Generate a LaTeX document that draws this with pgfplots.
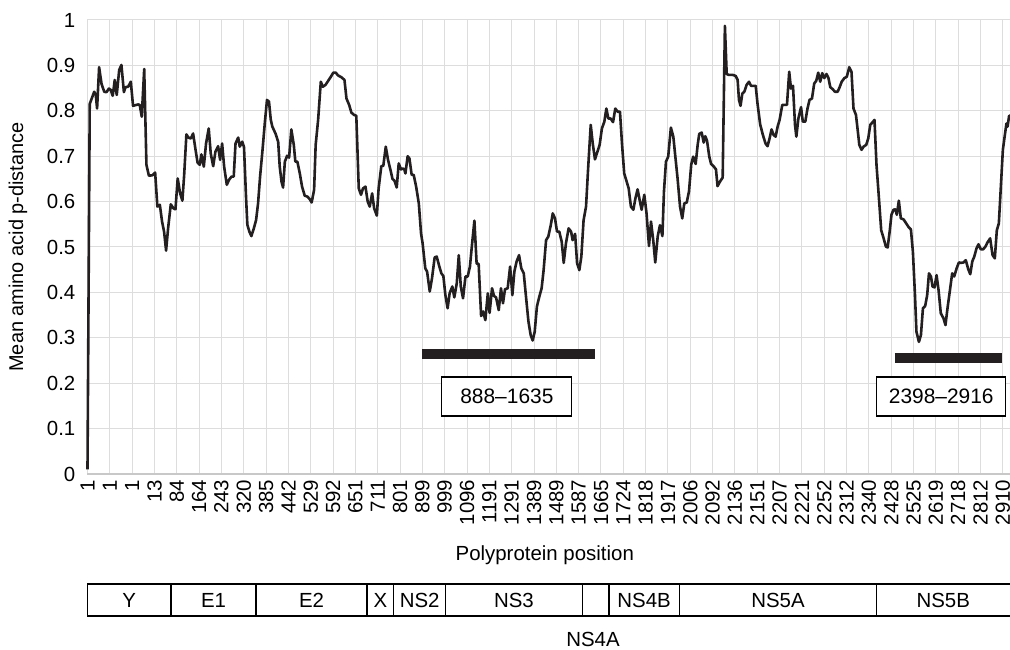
\documentclass[border=0pt]{standalone}
\usepackage{fontspec}
\setmainfont{Liberation Sans}
\usepackage{pgfplots}
\pgfplotsset{compat=1.18}
\usetikzlibrary{calc}
\definecolor{gridgray}{RGB}{221,221,221}
\definecolor{axisgray}{RGB}{200,200,200}
\definecolor{linecol}{RGB}{35,31,32}
\tikzset{gene/.style={font=\fontsize{20.5}{20.5}\selectfont, anchor=center, inner sep=0pt},
  div/.style={black, line width=1.2bp}}
\begin{document}
\begin{tikzpicture}
\begin{axis}[
  scale only axis, width=922.5bp, height=454bp,
  xmin=0, xmax=41.32, ymin=0, ymax=1,
  clip=false,
  axis x line*=bottom, axis y line*=left,
  x axis line style={draw=axisgray, line width=1.2bp, -},
  y axis line style={draw=none},
  major tick length=0,
  grid=major, major grid style={draw=gridgray, line width=1bp},
  xtick={0,...,41},
  xticklabels={1,1,1,13,84,164,243,320,385,442,529,592,651,711,801,899,999,1096,1191,1291,1389,1489,1587,1665,1724,1818,1917,2006,2092,2136,2151,2207,2221,2252,2312,2340,2428,2525,2619,2718,2812,2910},
  xticklabel style={rotate=90, anchor=east, font=\fontsize{20.5}{20.5}\selectfont, inner sep=0pt, xshift=-5.5bp},
  ytick={0,0.1,0.2,0.3,0.4,0.5,0.6,0.7,0.8,0.9,1},
  yticklabels={0,0.1,0.2,0.3,0.4,0.5,0.6,0.7,0.8,0.9,1},
  yticklabel style={font=\fontsize{20.5}{20.5}\selectfont, anchor=east, inner sep=0pt, xshift=-12bp},
  /pgf/number format/assume math mode=true,
  xlabel={Polyprotein position},
  xlabel style={at={(axis description cs:0.4957,-0.1784)}, anchor=center, font=\fontsize{20.5}{20.5}\selectfont},
  ylabel={Mean amino acid p-distance},
  ylabel style={at={(axis description cs:-0.0753,0.5)}, anchor=center, font=\fontsize{20}{20}\selectfont},
]
\addplot[linecol, line width=2.6bp, line join=round] coordinates {
(0,0.01) (0.1,0.815) (0.3,0.842) (0.37,0.835) (0.43,0.805) (0.52,0.896) (0.63,0.859) (0.75,0.842) (0.85,0.841) (0.96,0.849) (1.04,0.846) (1.13,0.833) (1.22,0.868) (1.31,0.835) (1.42,0.89) (1.52,0.901) (1.63,0.841) (1.70,0.852) (1.82,0.853) (1.94,0.864) (2.04,0.811) (2.27,0.814) (2.34,0.813) (2.43,0.787) (2.54,0.892) (2.64,0.681) (2.75,0.657) (2.91,0.658) (3.03,0.664) (3.13,0.589) (3.24,0.593) (3.34,0.556) (3.43,0.534) (3.52,0.492) (3.61,0.541) (3.73,0.594) (3.85,0.585) (3.94,0.583) (4.04,0.651) (4.15,0.618) (4.25,0.602) (4.33,0.659) (4.43,0.748) (4.52,0.741) (4.63,0.739) (4.73,0.75) (4.84,0.714) (4.93,0.686) (5.03,0.681) (5.10,0.704) (5.21,0.677) (5.31,0.728) (5.43,0.761) (5.52,0.706) (5.63,0.678) (5.73,0.71) (5.85,0.722) (5.94,0.692) (6.03,0.728) (6.12,0.677) (6.24,0.637) (6.34,0.648) (6.45,0.655) (6.55,0.655) (6.63,0.728) (6.75,0.741) (6.82,0.721) (6.93,0.732) (7.01,0.72) (7.10,0.611) (7.16,0.549) (7.25,0.534) (7.34,0.524) (7.45,0.541) (7.55,0.559) (7.64,0.596) (7.73,0.655) (7.84,0.714) (7.94,0.772) (8.04,0.824) (8.13,0.82) (8.21,0.78) (8.28,0.765) (8.42,0.75) (8.54,0.732) (8.61,0.677) (8.69,0.644) (8.76,0.631) (8.84,0.688) (8.94,0.701) (9.03,0.697) (9.13,0.759) (9.24,0.725) (9.31,0.688) (9.40,0.688) (9.51,0.662) (9.61,0.633) (9.73,0.613) (9.85,0.611) (9.96,0.605) (10.04,0.598) (10.15,0.626) (10.22,0.725) (10.33,0.78) (10.45,0.864) (10.54,0.853) (10.66,0.857) (10.78,0.866) (10.90,0.875) (11.01,0.884) (11.12,0.884) (11.22,0.878) (11.37,0.874) (11.51,0.868) (11.60,0.827) (11.72,0.813) (11.82,0.796) (11.94,0.791) (12.04,0.789) (12.15,0.629) (12.25,0.615) (12.34,0.629) (12.45,0.633) (12.55,0.6) (12.64,0.589) (12.75,0.618) (12.84,0.585) (12.96,0.569) (13.04,0.629) (13.16,0.678) (13.25,0.679) (13.36,0.721) (13.46,0.692) (13.58,0.668) (13.66,0.650) (13.75,0.646) (13.85,0.631) (13.94,0.684) (14.04,0.671) (14.12,0.673) (14.19,0.671) (14.24,0.662) (14.34,0.7) (14.42,0.695) (14.52,0.659) (14.61,0.659) (14.72,0.633) (14.84,0.596) (14.94,0.53) (15.01,0.508) (15.13,0.453) (15.21,0.446) (15.33,0.402) (15.43,0.431) (15.55,0.477) (15.64,0.479) (15.76,0.457) (15.85,0.442) (15.94,0.436) (16.03,0.394) (16.13,0.365) (16.22,0.398) (16.34,0.413) (16.43,0.389) (16.54,0.42) (16.63,0.482) (16.72,0.413) (16.82,0.387) (16.93,0.435) (17.03,0.435) (17.13,0.457) (17.22,0.504) (17.33,0.558) (17.43,0.463) (17.52,0.463) (17.63,0.348) (17.72,0.358) (17.82,0.339) (17.93,0.398) (18.01,0.355) (18.12,0.409) (18.21,0.392) (18.30,0.389) (18.42,0.361) (18.52,0.409) (18.61,0.376) (18.70,0.407) (18.82,0.409) (18.93,0.457) (19.03,0.394) (19.12,0.446) (19.22,0.468) (19.33,0.482) (19.43,0.453) (19.54,0.442) (19.64,0.391) (19.75,0.336) (19.85,0.306) (19.94,0.294) (20.03,0.313) (20.13,0.369) (20.24,0.391) (20.34,0.409) (20.43,0.449) (20.54,0.515) (20.64,0.523) (20.75,0.548) (20.84,0.574) (20.94,0.563) (21.03,0.534) (21.13,0.534) (21.24,0.512) (21.33,0.465) (21.43,0.508) (21.55,0.541) (21.66,0.534) (21.73,0.515) (21.84,0.529) (21.93,0.464) (22.03,0.449) (22.12,0.479) (22.22,0.559) (22.33,0.589) (22.42,0.67) (22.54,0.769) (22.63,0.728) (22.73,0.693) (22.84,0.71) (22.94,0.725) (23.04,0.761) (23.15,0.776) (23.24,0.805) (23.33,0.783) (23.43,0.783) (23.54,0.775) (23.64,0.805) (23.75,0.798) (23.85,0.798) (23.94,0.728) (24.04,0.662) (24.15,0.644) (24.24,0.629) (24.34,0.589) (24.45,0.582) (24.54,0.607) (24.64,0.627) (24.73,0.604) (24.82,0.582) (24.94,0.615) (25.04,0.574) (25.15,0.502) (25.24,0.556) (25.34,0.515) (25.43,0.466) (25.54,0.523) (25.64,0.548) (25.75,0.524) (25.82,0.622) (25.91,0.688) (26.01,0.699) (26.13,0.763) (26.24,0.743) (26.33,0.699) (26.43,0.651) (26.54,0.589) (26.64,0.563) (26.73,0.596) (26.84,0.598) (26.94,0.622) (27.04,0.681) (27.13,0.699) (27.24,0.683) (27.33,0.725) (27.40,0.749) (27.51,0.752) (27.60,0.73) (27.67,0.744) (27.75,0.734) (27.85,0.699) (27.93,0.683) (28.04,0.678) (28.15,0.671) (28.22,0.634) (28.33,0.644) (28.45,0.653) (28.55,0.987) (28.63,0.881) (28.73,0.879) (28.90,0.879) (29.03,0.877) (29.12,0.868) (29.18,0.824) (29.25,0.811) (29.33,0.838) (29.42,0.842) (29.52,0.857) (29.63,0.864) (29.72,0.855) (29.84,0.855) (29.93,0.855) (30.01,0.816) (30.13,0.77) (30.25,0.747) (30.37,0.728) (30.46,0.722) (30.55,0.739) (30.64,0.759) (30.73,0.747) (30.82,0.743) (30.91,0.765) (31.00,0.78) (31.12,0.813) (31.24,0.813) (31.33,0.813) (31.43,0.886) (31.51,0.849) (31.60,0.855) (31.69,0.769) (31.75,0.743) (31.84,0.783) (31.96,0.808) (32.04,0.776) (32.15,0.776) (32.25,0.805) (32.34,0.824) (32.45,0.827) (32.55,0.86) (32.64,0.866) (32.73,0.884) (32.82,0.864) (32.91,0.883) (33.00,0.872) (33.10,0.881) (33.19,0.872) (33.27,0.852) (33.37,0.848) (33.48,0.842) (33.60,0.842) (33.69,0.852) (33.78,0.864) (33.90,0.872) (34.01,0.875) (34.12,0.896) (34.22,0.886) (34.31,0.805) (34.42,0.791) (34.49,0.761) (34.57,0.725) (34.67,0.714) (34.76,0.721) (34.88,0.725) (34.97,0.739) (35.06,0.769) (35.15,0.774) (35.25,0.78) (35.34,0.681) (35.45,0.607) (35.55,0.537) (35.66,0.519) (35.76,0.501) (35.84,0.499) (35.93,0.534) (36.01,0.571) (36.10,0.582) (36.19,0.583) (36.25,0.571) (36.34,0.602) (36.43,0.563) (36.55,0.561) (36.67,0.552) (36.79,0.543) (36.88,0.539) (36.97,0.49) (37.06,0.398) (37.13,0.313) (37.24,0.291) (37.33,0.306) (37.42,0.365) (37.52,0.37) (37.61,0.394) (37.69,0.442) (37.78,0.435) (37.85,0.413) (37.94,0.411) (38.03,0.438) (38.12,0.405) (38.22,0.354) (38.34,0.343) (38.43,0.328) (38.52,0.365) (38.63,0.405) (38.73,0.442) (38.82,0.435) (38.93,0.453) (39.03,0.466) (39.12,0.465) (39.24,0.466) (39.34,0.471) (39.45,0.451) (39.54,0.44) (39.63,0.468) (39.72,0.479) (39.82,0.497) (39.91,0.506) (40.01,0.495) (40.12,0.495) (40.22,0.501) (40.31,0.51) (40.43,0.519) (40.54,0.482) (40.64,0.475) (40.73,0.537) (40.82,0.552) (40.91,0.633) (41.00,0.714) (41.09,0.747) (41.16,0.772) (41.21,0.765) (41.28,0.789) (41.32,0.789)
};
\addplot[linecol, line width=10bp] coordinates {(14.98,0.264) (22.73,0.264)};
\addplot[linecol, line width=10bp] coordinates {(36.16,0.256) (40.95,0.256)};
\node[draw=black, line width=1.1bp, fill=white, minimum width=130bp, minimum height=39bp, inner sep=0pt, font=\fontsize{21}{21}\selectfont] at (axis cs:18.785,0.1708) {888--1635};
\node[draw=black, line width=1.1bp, fill=white, minimum width=129bp, minimum height=39bp, inner sep=0pt, font=\fontsize{21}{21}\selectfont] at (axis cs:38.24,0.1708) {2398--2916};
\draw[div] (axis cs:0,-0.2423) -- (axis cs:41.32,-0.2423);
\draw[div] (axis cs:0,-0.3128) -- (axis cs:41.32,-0.3128);
\draw[div] (axis cs:0,-0.2423) -- (axis cs:0,-0.3128);
\draw[div] (axis cs:3.74,-0.2423) -- (axis cs:3.74,-0.3128);
\draw[div] (axis cs:7.55,-0.2423) -- (axis cs:7.55,-0.3128);
\draw[div] (axis cs:12.52,-0.2423) -- (axis cs:12.52,-0.3128);
\draw[div] (axis cs:13.72,-0.2423) -- (axis cs:13.72,-0.3128);
\draw[div] (axis cs:16.04,-0.2423) -- (axis cs:16.04,-0.3128);
\draw[div] (axis cs:22.16,-0.2423) -- (axis cs:22.16,-0.3128);
\draw[div] (axis cs:23.36,-0.2423) -- (axis cs:23.36,-0.3128);
\draw[div] (axis cs:26.50,-0.2423) -- (axis cs:26.50,-0.3128);
\draw[div] (axis cs:35.35,-0.2423) -- (axis cs:35.35,-0.3128);
\node[gene] at (axis cs:1.87,-0.2775) {Y};
\node[gene] at (axis cs:5.645,-0.2775) {E1};
\node[gene] at (axis cs:10.035,-0.2775) {E2};
\node[gene] at (axis cs:13.12,-0.2775) {X};
\node[gene] at (axis cs:14.88,-0.2775) {NS2};
\node[gene] at (axis cs:19.10,-0.2775) {NS3};
\node[gene] at (axis cs:24.93,-0.2775) {NS4B};
\node[gene] at (axis cs:30.93,-0.2775) {NS5A};
\node[gene] at (axis cs:38.33,-0.2775) {NS5B};
\node[gene] at (axis cs:22.64,-0.3634) {NS4A};
\end{axis}
\pgfresetboundingbox
\useasboundingbox ($(current axis.south west)+(-87.5bp,-176bp)$) rectangle ($(current axis.north east)+(0bp,20bp)$);
\end{tikzpicture}
\end{document}
